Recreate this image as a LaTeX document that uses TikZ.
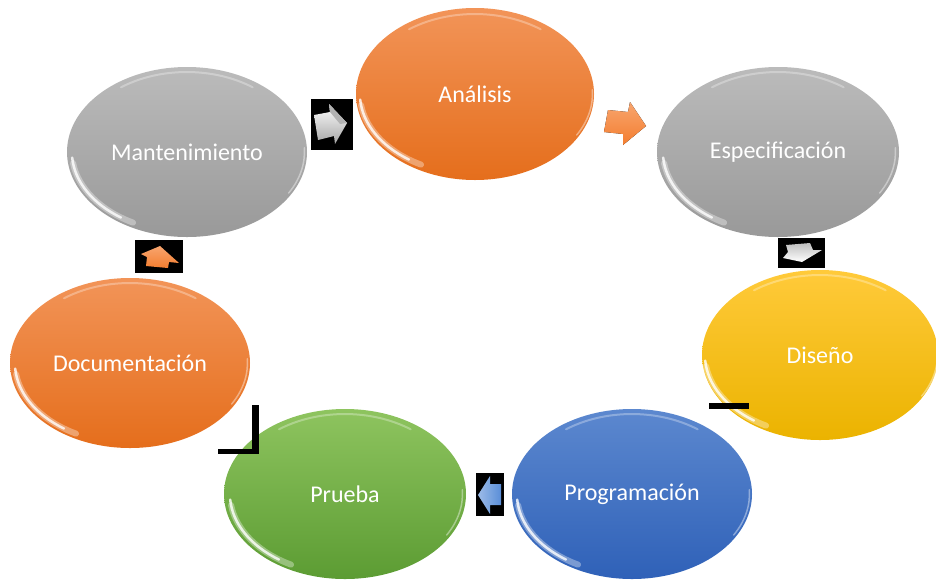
\documentclass[tikz,border=0pt]{standalone}
\usepackage{fontspec}
\setmainfont{Carlito}
\usetikzlibrary{shapes.geometric,calc}
\definecolor{orT}{HTML}{F29458}
\definecolor{orB}{HTML}{E56E1C}
\definecolor{grT}{HTML}{BBBBBB}
\definecolor{grB}{HTML}{999999}
\definecolor{yeT}{HTML}{FFCA3A}
\definecolor{yeB}{HTML}{EBB300}
\definecolor{blT}{HTML}{5C88CF}
\definecolor{blB}{HTML}{2F61B8}
\definecolor{gnT}{HTML}{8EC45F}
\definecolor{gnB}{HTML}{5C9C33}
\definecolor{arrOr}{HTML}{F47E30}
\definecolor{arrBl}{HTML}{5A8ED8}
\tikzset{
  phase/.style={ellipse, inner sep=0pt, minimum width=240pt, minimum height=170pt,
    text=white, font=\fontsize{24}{28}\selectfont},
  orph/.style={phase, top color=orT, bottom color=orB},
  grph/.style={phase, top color=grT, bottom color=grB},
  yeph/.style={phase, top color=yeT, bottom color=yeB},
  blph/.style={phase, top color=blT, bottom color=blB},
  gnph/.style={phase, top color=gnT, bottom color=gnB},
  blackbox/.style={fill=black},
  glint/.style={white, line cap=round}
}
\newcommand\glossring[1]{%
  \draw[glint, opacity=0.35, line width=6pt] ($(#1)+(-113.9,11.1)$) arc[start angle=172, end angle=118, x radius=115, y radius=80];
  \draw[glint, opacity=0.8, line width=2.5pt] ($(#1)+(-114.8,5.6)$) arc[start angle=176, end angle=125, x radius=115, y radius=80];
  \draw[glint, opacity=0.3, line width=2pt] ($(#1)+(-66,-64.7)$) arc[start angle=234, end angle=306, x radius=112, y radius=80];
  \draw[glint, opacity=0.4, line width=1.5pt] ($(#1)+(117.3,-4.3)$) arc[start angle=-3, end angle=30, x radius=117.5, y radius=82];
}
\begin{document}
\begin{tikzpicture}[x=1pt,y=-1pt]
\useasboundingbox (0,0) rectangle (936,579);
% phases
\node[orph, minimum width=238pt, minimum height=172pt] (ana) at (475,94) {Análisis};
\node[grph, minimum width=242pt] (esp) at (778,152) {Especificación};
\node[yeph, minimum width=236pt] (dis) at (820,355) {Diseño};
\node[blph] (pro) at (632,494) {Programación};
\node[gnph, minimum width=242pt] (pru) at (345,494) {Prueba};
\node[orph] (doc) at (130,363) {Documentación};
\node[grph] (man) at (187,152) {Mantenimiento};
\glossring{ana}
\glossring{esp}
\glossring{dis}
\glossring{pro}
\glossring{pru}
\glossring{doc}
\glossring{man}
% arrow 1: Mantenimiento -> Analisis (gray, boxed)
\fill[blackbox] (311,99) rectangle (353,150);
\fill[top color=white, bottom color=gray!70] (314,115) -- (330,112) -- (329,104) -- (347,123) -- (335,144) -- (334,136) -- (318,140) -- cycle;
\fill[gray!60] (330,112) -- (329,104) -- (347,123) -- (340,124) -- cycle;
% arrow 2: Analisis -> Especificacion (orange)
\fill[top color=arrOr!70!white, bottom color=arrOr] (608,110) -- (628,112) -- (630,102) -- (646,126) -- (623,145) -- (623,134) -- (604,132) -- cycle;
% arrow 3: Especificacion -> Diseno (gray, boxed)
\fill[blackbox] (778,238) rectangle (825,268);
\fill[top color=gray!50, bottom color=white] (786,245) -- (810,243) -- (813,250) -- (822,250) -- (802,262) -- (783,258) -- (788,252) -- cycle;
% bar near Diseno
\fill[blackbox] (709,403) rectangle (749,409);
% arrow 4: Programacion -> Prueba (blue, boxed)
\fill[blackbox] (476,473) rectangle (504,516);
\fill[left color=arrBl!60!white, right color=arrBl] (478,495) -- (490,476) -- (490,484) -- (501,484) -- (501,505) -- (490,505) -- (490,514) -- cycle;
% L mark near Prueba
\fill[blackbox] (252,405) rectangle (259,454);
\fill[blackbox] (218,449) rectangle (259,454);
% arrow 5: Documentacion -> Mantenimiento (orange, boxed)
\fill[blackbox] (135,240) rectangle (183,273);
\fill[top color=arrOr!70!white, bottom color=arrOr] (141,254) -- (160,246) -- (179,263) -- (169,262) -- (168,268) -- (146,266) -- (147,257) -- cycle;
\end{tikzpicture}
\end{document}
